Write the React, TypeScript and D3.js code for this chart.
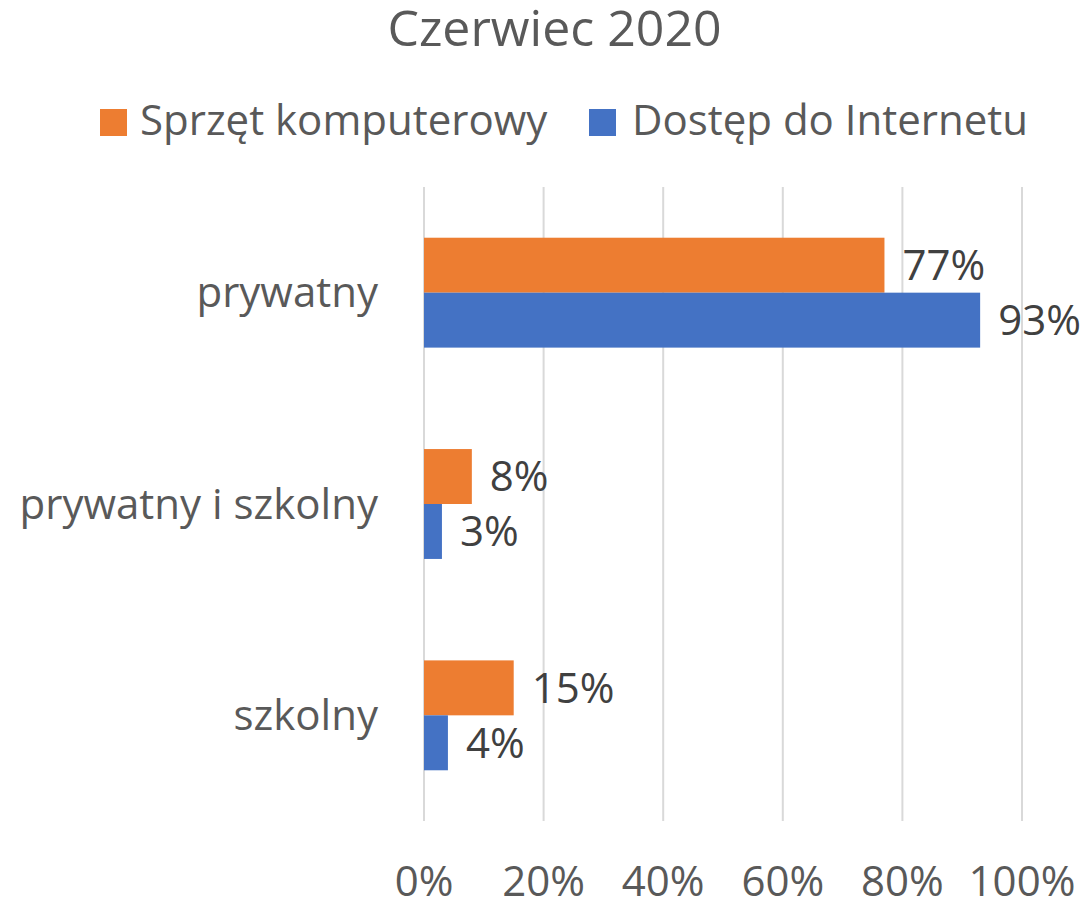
import React from "react";
import * as d3 from "d3";

const title = "Czerwiec 2020";
const categories = ["prywatny", "prywatny i szkolny", "szkolny"];
const seriesNames = ["Sprzęt komputerowy", "Dostęp do Internetu"];
const seriesColors = ["#ED7D31", "#4472C4"];
const sprzetValues = [0.77, 0.08, 0.15];
const dostepValues = [0.93, 0.03, 0.04];
const tickValues = [0, 0.2, 0.4, 0.6, 0.8, 1.0];

const W = 1091;
const H = 900;
const FONT = "'Open Sans', sans-serif";

export default function App() {
  const x = d3.scaleLinear().domain([0, 1]).range([424, 1022]);
  const y = d3
    .scaleBand<string>()
    .domain(categories)
    .range([187, 821])
    .paddingInner(0.48)
    .paddingOuter(0.24);
  const sub = d3
    .scaleBand<string>()
    .domain(seriesNames)
    .range([0, y.bandwidth()]);
  const series = [sprzetValues, dostepValues];
  const fmt = d3.format(".0%");
  const legendX = [100, 589];
  const legendTextX = [140, 632];

  return (
    <svg
      width={W}
      height={H}
      style={{ position: "absolute", left: 0, top: 0, background: "#fff" }}
      fontFamily={FONT}
    >
      <text x={554.5} y={46} textAnchor="middle" fontSize={50} fill="#595959">
        {title}
      </text>
      {seriesNames.map((s, i) => (
        <g key={s}>
          <rect x={legendX[i]} y={109} width={27} height={27} fill={seriesColors[i]} />
          <text x={legendTextX[i]} y={135} fontSize={42} fill="#595959">
            {s}
          </text>
        </g>
      ))}
      {tickValues.map((t) => (
        <g key={t}>
          <line
            x1={x(t)}
            x2={x(t)}
            y1={187}
            y2={821}
            stroke="#D9D9D9"
            strokeWidth={2}
          />
          <text
            x={x(t)}
            y={896}
            textAnchor="middle"
            fontSize={42}
            fill="#595959"
          >
            {fmt(t)}
          </text>
        </g>
      ))}
      {categories.map((c) => (
        <text
          key={c}
          x={378}
          y={(y(c) as number) + y.bandwidth() / 2}
          dy="0.35em"
          textAnchor="end"
          fontSize={42}
          fill="#595959"
        >
          {c}
        </text>
      ))}
      {series.map((vals, si) =>
        vals.map((v, ci) => {
          const by = (y(categories[ci]) as number) + (sub(seriesNames[si]) as number);
          return (
            <g key={`${si}-${ci}`}>
              <rect
                x={x(0)}
                y={by}
                width={x(v) - x(0)}
                height={sub.bandwidth()}
                fill={seriesColors[si]}
              />
              <text
                x={x(v) + 18}
                y={by + sub.bandwidth() / 2}
                dy="0.35em"
                fontSize={42}
                fill="#404040"
              >
                {fmt(v)}
              </text>
            </g>
          );
        })
      )}
    </svg>
  );
}
